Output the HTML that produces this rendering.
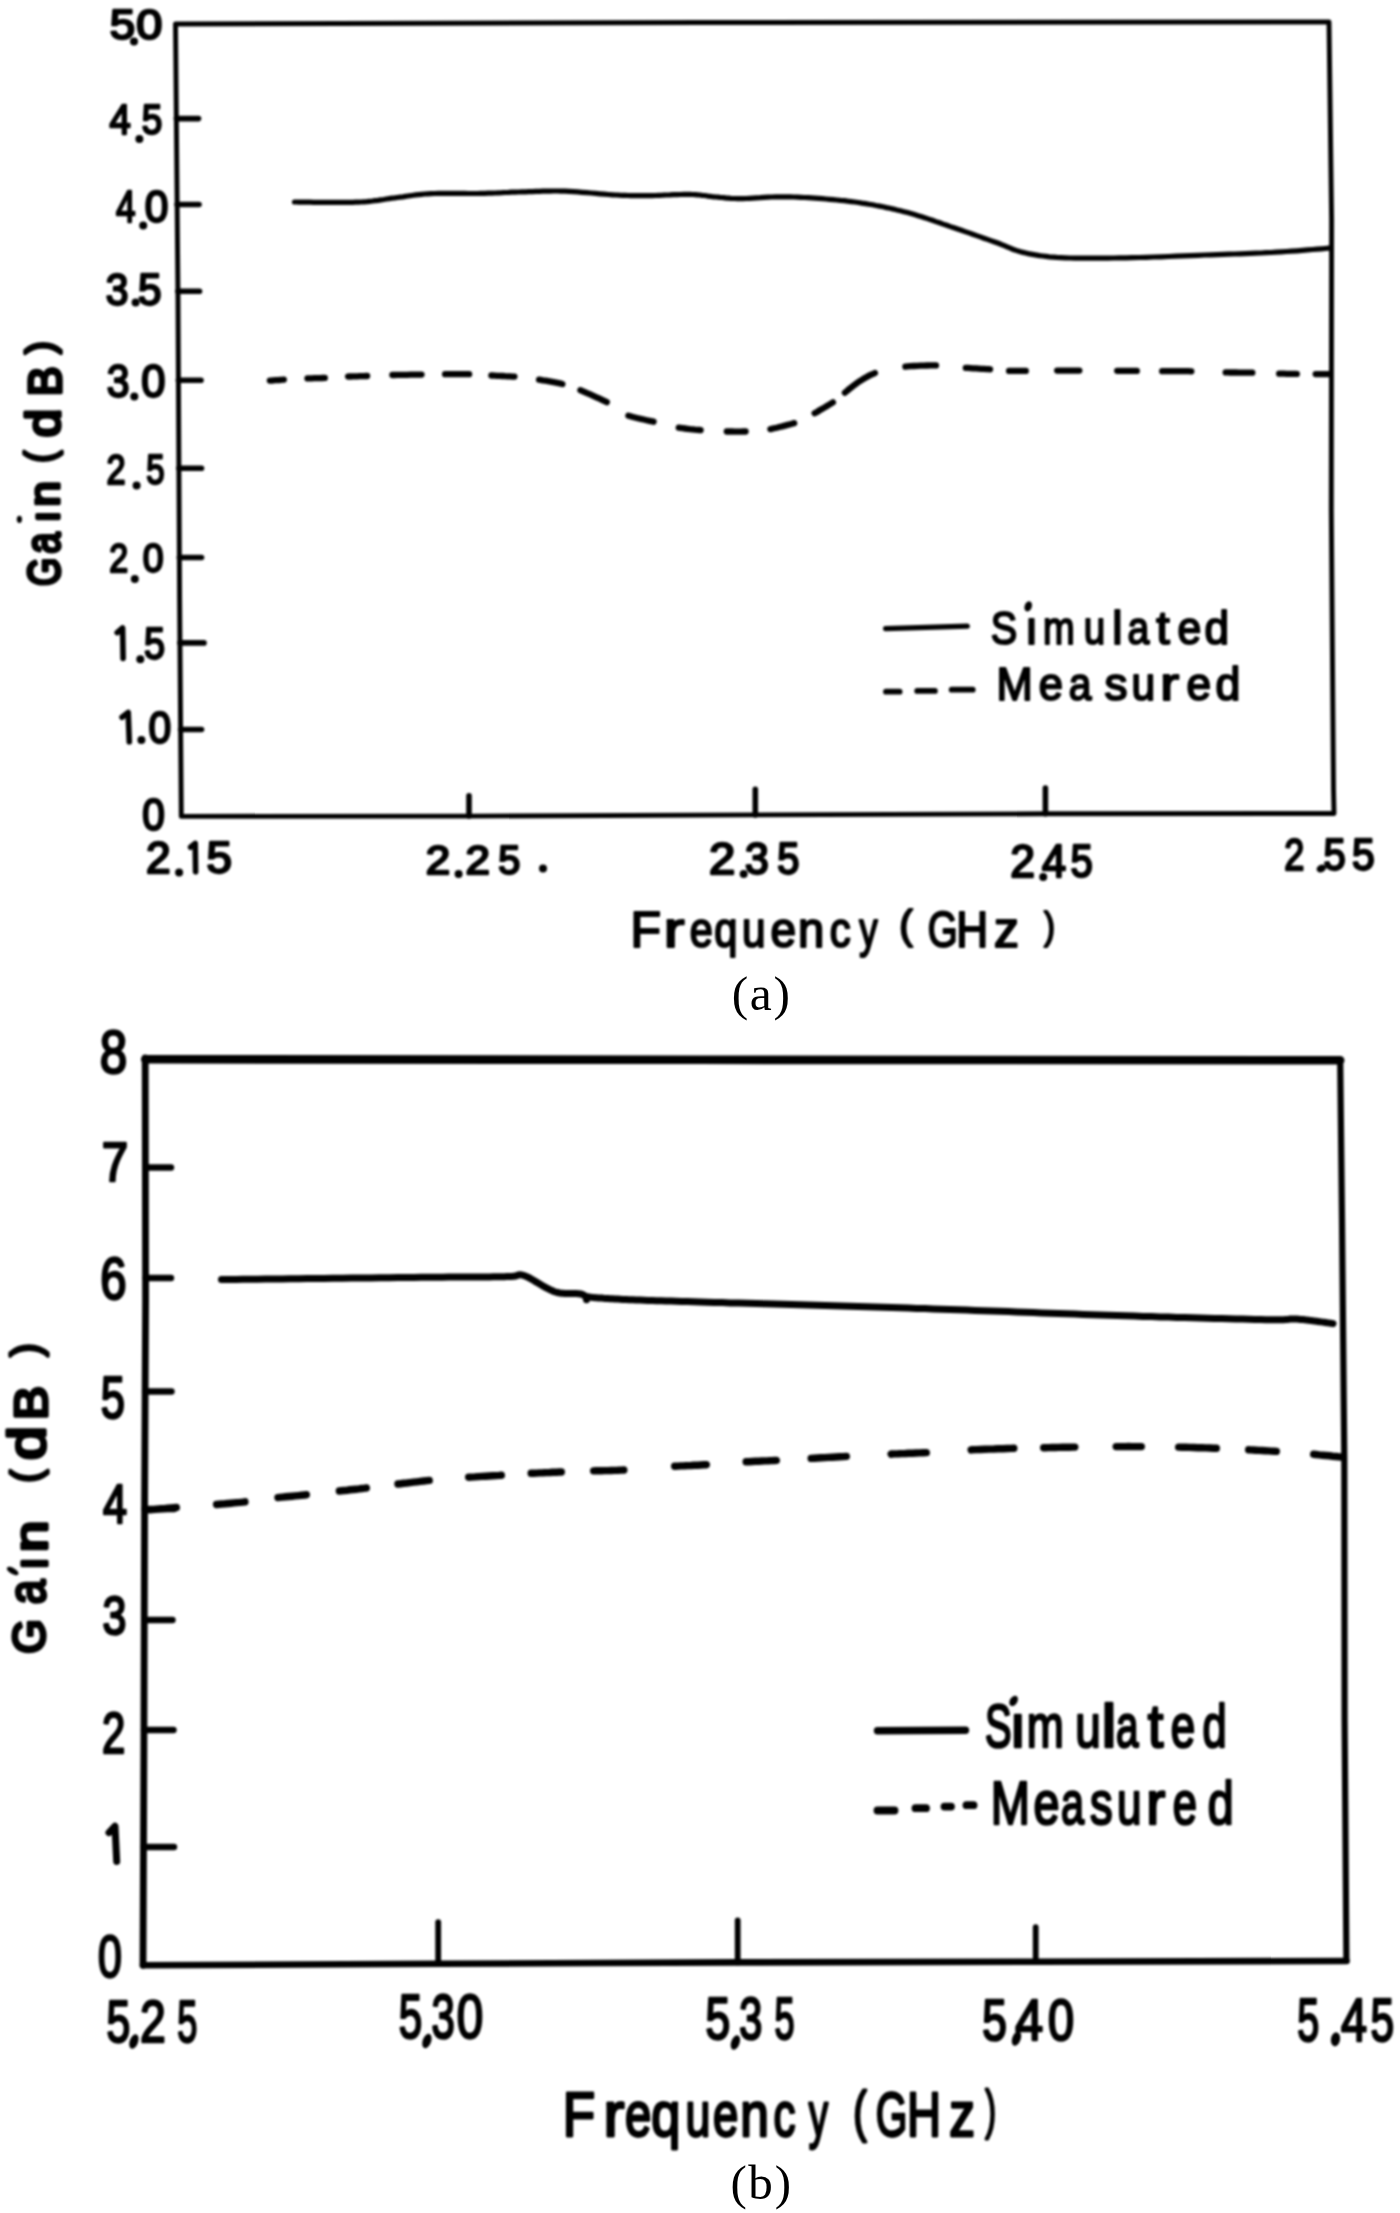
<!DOCTYPE html>
<html><head><meta charset="utf-8"><title>Gain vs Frequency</title>
<style>html,body{margin:0;padding:0;background:#fff;}#scan{display:block;filter:blur(1.2px);}#cap{position:absolute;left:0;top:0;}</style></head>
<body><svg id="scan" width="1400" height="2213" viewBox="0 0 1400 2213">
<rect width="1400" height="2213" fill="#fff"/>
<g fill="none" stroke="#000" stroke-linecap="round">
<path d="M175.5,24.0 L700.0,22.5 L1329.0,22.0 L1331.6,220.0 L1331.3,510.0 L1333.5,790.0 L1334.0,813.5 L1045.0,813.8 L755.0,814.9 L469.0,816.1 L181.3,816.4 L179.6,600.0 L178.0,300.0 Z" stroke-width="4.9" stroke-linejoin="round"/>
<path d="M176.4,118.6 L198.5,118.6" stroke-width="5.6" />
<path d="M177.1,204.5 L199.0,204.5" stroke-width="5.6" />
<path d="M177.9,291.2 L199.5,291.2" stroke-width="5.6" />
<path d="M178.4,380.2 L201.0,380.2" stroke-width="5.6" />
<path d="M178.9,468.2 L201.5,468.2" stroke-width="5.6" />
<path d="M179.4,557.5 L201.5,557.5" stroke-width="5.6" />
<path d="M179.9,642.9 L204.0,642.9" stroke-width="5.6" />
<path d="M180.6,729.5 L201.5,729.5" stroke-width="5.6" />
<path d="M469.0,795.9 L469.0,816.1" stroke-width="5.6" />
<path d="M755.3,789.4 L755.3,814.9" stroke-width="5.6" />
<path d="M1045.4,788.1 L1045.4,813.8" stroke-width="5.6" />
<path d="M294.5,202.0 L296.2,202.0 L298.4,202.1 L300.9,202.1 L303.8,202.1 L306.9,202.2 L310.1,202.2 L313.5,202.3 L317.0,202.3 L320.4,202.4 L323.8,202.4 L327.0,202.4 L330.0,202.4 L332.9,202.4 L335.8,202.4 L338.6,202.4 L341.5,202.4 L344.3,202.4 L347.1,202.4 L349.9,202.4 L352.8,202.3 L355.6,202.2 L358.4,202.1 L361.2,202.0 L364.0,201.8 L366.8,201.6 L369.6,201.3 L372.4,201.0 L375.2,200.6 L378.0,200.3 L380.8,199.9 L383.6,199.5 L386.4,199.0 L389.1,198.6 L391.9,198.2 L394.7,197.9 L397.5,197.5 L400.2,197.1 L402.9,196.8 L405.5,196.4 L408.1,196.0 L410.6,195.7 L413.2,195.3 L415.9,194.9 L418.6,194.6 L421.5,194.3 L424.5,194.0 L427.6,193.8 L431.0,193.6 L434.6,193.5 L438.5,193.4 L442.6,193.3 L446.8,193.3 L451.1,193.3 L455.5,193.3 L460.0,193.4 L464.4,193.4 L468.7,193.5 L473.0,193.5 L477.1,193.5 L481.0,193.4 L484.7,193.3 L488.3,193.2 L491.8,193.1 L495.3,193.0 L498.6,192.8 L501.9,192.7 L505.2,192.5 L508.5,192.4 L511.8,192.2 L515.2,192.1 L518.5,192.0 L522.0,191.9 L525.5,191.8 L529.0,191.7 L532.4,191.6 L535.9,191.4 L539.4,191.3 L542.9,191.2 L546.4,191.1 L550.0,191.1 L553.6,191.0 L557.3,191.0 L561.1,191.1 L565.0,191.2 L569.0,191.4 L573.2,191.6 L577.6,191.9 L582.1,192.3 L586.6,192.6 L591.1,193.0 L595.6,193.4 L600.0,193.8 L604.3,194.2 L608.4,194.5 L612.4,194.8 L616.0,195.0 L619.4,195.2 L622.4,195.3 L625.3,195.4 L628.0,195.5 L630.6,195.6 L633.1,195.6 L635.6,195.6 L638.1,195.7 L640.6,195.7 L643.2,195.6 L646.0,195.6 L649.0,195.6 L652.2,195.6 L655.5,195.5 L659.0,195.3 L662.6,195.2 L666.3,195.0 L669.9,194.9 L673.6,194.7 L677.1,194.6 L680.6,194.5 L683.9,194.4 L687.1,194.4 L690.0,194.4 L692.7,194.5 L695.2,194.6 L697.6,194.8 L699.9,195.0 L702.0,195.3 L704.1,195.5 L706.1,195.8 L708.0,196.1 L710.0,196.3 L712.0,196.6 L714.0,196.8 L716.0,197.0 L718.0,197.2 L719.9,197.4 L721.7,197.5 L723.4,197.7 L725.2,197.9 L726.9,198.1 L728.8,198.2 L730.7,198.4 L732.7,198.5 L734.9,198.5 L737.3,198.6 L740.0,198.6 L742.9,198.6 L746.1,198.5 L749.4,198.3 L752.9,198.1 L756.6,197.9 L760.3,197.7 L764.1,197.4 L768.0,197.2 L771.8,197.0 L775.6,196.9 L779.4,196.8 L783.0,196.8 L786.6,196.8 L790.2,196.9 L793.8,197.0 L797.3,197.1 L800.9,197.3 L804.5,197.5 L808.1,197.7 L811.7,197.9 L815.2,198.1 L818.8,198.4 L822.4,198.7 L826.0,199.0 L829.6,199.3 L833.2,199.6 L836.8,200.0 L840.4,200.4 L844.0,200.7 L847.6,201.2 L851.2,201.6 L854.7,202.0 L858.3,202.5 L861.9,203.1 L865.5,203.6 L869.0,204.2 L872.5,204.8 L876.0,205.5 L879.5,206.1 L883.0,206.8 L886.5,207.6 L890.0,208.3 L893.5,209.1 L897.0,210.0 L900.5,210.8 L904.0,211.7 L907.5,212.6 L911.0,213.6 L914.5,214.6 L918.1,215.7 L921.7,216.8 L925.3,217.9 L928.8,219.1 L932.4,220.3 L936.0,221.6 L939.6,222.8 L943.2,224.1 L946.8,225.3 L950.4,226.6 L954.0,227.8 L957.6,229.0 L961.4,230.3 L965.1,231.6 L969.0,232.9 L972.8,234.3 L976.6,235.6 L980.3,236.9 L983.9,238.2 L987.4,239.4 L990.8,240.6 L994.0,241.7 L997.0,242.8 L999.7,243.8 L1002.2,244.8 L1004.4,245.7 L1006.5,246.6 L1008.4,247.4 L1010.3,248.2 L1012.2,249.0 L1014.1,249.7 L1016.1,250.4 L1018.2,251.1 L1020.5,251.8 L1023.0,252.4 L1025.7,253.0 L1028.3,253.6 L1031.0,254.1 L1033.8,254.6 L1036.6,255.1 L1039.6,255.6 L1042.6,256.0 L1045.9,256.4 L1049.3,256.8 L1053.0,257.1 L1056.8,257.4 L1061.0,257.6 L1065.4,257.8 L1070.0,258.0 L1074.9,258.1 L1079.9,258.2 L1085.2,258.2 L1090.6,258.2 L1096.1,258.2 L1101.9,258.2 L1107.7,258.1 L1113.7,258.0 L1119.8,257.9 L1126.0,257.8 L1132.4,257.7 L1139.2,257.5 L1146.3,257.3 L1153.6,257.0 L1161.0,256.8 L1168.5,256.5 L1176.0,256.2 L1183.4,255.9 L1190.7,255.6 L1197.8,255.3 L1204.6,255.0 L1211.0,254.8 L1217.1,254.6 L1223.1,254.4 L1228.9,254.2 L1234.5,254.0 L1240.0,253.8 L1245.4,253.6 L1250.6,253.4 L1255.8,253.2 L1260.9,253.0 L1266.0,252.7 L1271.0,252.5 L1276.0,252.2 L1281.1,251.9 L1286.4,251.5 L1291.7,251.2 L1297.1,250.8 L1302.4,250.4 L1307.6,249.9 L1312.5,249.5 L1317.1,249.1 L1321.4,248.8 L1325.1,248.5 L1328.4,248.2 L1331.0,248.0" stroke-width="5.2" />
<path d="M269.9,380.6 L270.4,380.6 L272.0,380.5 L273.6,380.3 L275.4,380.2 L277.2,380.1 L279.0,380.0 L280.9,379.8 L282.7,379.7 L283.8,379.6 M307.5,378.4 L307.7,378.4 L309.7,378.3 L311.8,378.3 L313.9,378.2 L316.1,378.2 L318.2,378.1 L320.3,378.1 L322.4,378.0 L324.3,377.9 L324.8,377.9 M348.1,376.6 L348.8,376.5 L350.8,376.5 L353.0,376.4 L355.2,376.3 L357.4,376.3 L359.6,376.2 L361.8,376.2 L364.0,376.1 L366.1,376.0 L367.1,376.0 M392.4,375.0 L394.2,375.0 L397.2,374.9 L400.4,374.9 L403.8,374.8 L407.1,374.8 L410.5,374.7 L413.8,374.7 L416.9,374.6 L419.9,374.6 L421.5,374.6 M445.1,374.2 L446.4,374.2 L448.9,374.2 L451.6,374.2 L454.3,374.2 L457.1,374.2 L459.8,374.2 L462.6,374.2 L465.2,374.2 L467.7,374.2 L469.1,374.2 M491.4,375.5 L492.2,375.5 L494.6,375.6 L497.1,375.8 L499.7,375.9 L502.3,376.0 L505.0,376.2 L507.6,376.3 L510.1,376.4 L512.6,376.6 L514.4,376.7 M539.1,379.6 L540.5,379.8 L542.9,380.3 L545.6,380.7 L548.2,381.2 L550.9,381.7 L553.6,382.2 L556.2,382.7 L558.7,383.2 L561.0,383.7 L562.4,384.0 M580.4,390.2 L581.5,390.6 L584.2,391.8 L587.1,393.1 L590.2,394.4 L593.3,395.8 L596.5,397.3 L599.6,398.7 L602.5,400.1 L605.3,401.4 L606.8,402.1 M628.4,415.7 L629.5,416.0 L632.1,416.8 L634.9,417.5 L637.8,418.2 L640.8,418.9 L643.7,419.5 L646.7,420.2 L649.5,420.8 L652.2,421.4 L653.6,421.7 M678.8,427.7 L680.2,427.9 L682.6,428.2 L685.0,428.5 L687.4,428.8 L689.9,429.1 L692.4,429.3 L694.9,429.6 L697.4,429.8 L699.7,430.0 L700.6,430.1 M726.8,431.5 L728.0,431.5 L730.1,431.5 L732.2,431.5 L734.4,431.6 L736.6,431.6 L738.8,431.6 L741.0,431.6 L743.1,431.5 L745.2,431.5 L745.6,431.5 M770.4,429.1 L771.5,428.9 L774.0,428.3 L776.7,427.7 L779.4,427.0 L782.2,426.4 L785.0,425.6 L787.7,424.9 L790.3,424.2 L792.8,423.5 L794.2,423.1 M814.6,413.2 L815.2,412.9 L817.4,411.7 L819.6,410.3 L821.9,409.0 L824.3,407.6 L826.6,406.2 L828.8,404.9 L830.9,403.6 L832.9,402.4 M844.9,392.7 L845.7,392.0 L847.1,390.8 L848.6,389.5 L850.2,388.2 L851.9,386.9 L853.6,385.6 L855.2,384.4 L856.9,383.1 L858.5,382.0 L860.0,381.0 L861.5,380.1 L862.9,379.2 L864.4,378.3 L865.8,377.5 L867.2,376.7 L868.6,375.9 L870.1,375.2 L871.6,374.4 L873.1,373.8 L874.7,373.1 L874.9,373.0 M905.4,366.6 L907.6,366.4 L910.6,366.2 L913.9,366.0 L917.2,365.8 L920.5,365.7 L923.8,365.6 L927.1,365.5 L930.4,365.4 L933.4,365.4 L936.0,365.4 M965.8,367.8 L967.8,367.9 L970.5,368.1 L973.2,368.3 L975.9,368.4 L978.7,368.6 L981.4,368.8 L984.0,368.9 L986.6,369.1 L988.9,369.2 L990.0,369.3 M1009.1,370.9 L1009.2,370.9 L1011.0,370.9 L1012.9,370.9 L1014.8,370.9 L1016.8,370.9 L1018.8,370.9 L1020.8,370.9 L1022.9,370.9 L1024.9,370.9 L1025.8,370.9 M1057.2,370.6 L1058.4,370.6 L1060.7,370.6 L1063.0,370.6 L1065.3,370.6 L1067.6,370.6 L1069.9,370.6 L1072.3,370.6 L1074.6,370.6 L1077.1,370.6 L1079.3,370.6 M1117.2,370.8 L1118.8,370.8 L1121.1,370.8 L1123.4,370.8 L1125.6,370.8 L1127.8,370.8 L1130.0,370.8 L1132.1,370.9 L1134.1,370.9 L1136.1,370.9 L1136.8,370.9 M1162.2,371.2 L1164.0,371.2 L1166.8,371.2 L1169.7,371.2 L1172.8,371.2 L1175.9,371.2 L1179.1,371.2 L1182.3,371.2 L1185.4,371.2 L1188.4,371.2 L1191.3,371.3 L1191.3,371.3 M1225.7,372.4 L1227.3,372.4 L1230.2,372.5 L1233.1,372.5 L1236.0,372.5 L1238.9,372.6 L1241.8,372.6 L1244.7,372.6 L1247.5,372.7 L1250.1,372.7 L1252.3,372.7 M1279.2,373.7 L1280.0,373.7 L1282.1,373.7 L1284.2,373.7 L1286.4,373.8 L1288.6,373.8 L1290.7,373.8 L1292.8,373.8 L1294.8,373.8 L1296.7,373.9 L1296.8,373.9 M1315.7,374.1 L1316.9,374.1 L1318.8,374.1 L1320.8,374.2 L1322.8,374.2 L1324.7,374.2 L1326.5,374.2 L1328.2,374.2 L1328.8,374.2" stroke-width="6.3" />
<path d="M885.6,628.6 L967.3,626.2" stroke-width="5.2" />
<path d="M886.0,691.7 L899.6,691.7" stroke-width="5.8" />
<path d="M917.2,690.9 L934.9,690.9" stroke-width="5.8" />
<path d="M951.7,689.7 L972.7,689.7" stroke-width="5.8" />
<path d="M145.2,1058.0 L145.6,1300.0 L144.6,1500.0 L143.9,1750.0 L143.0,1965.3" stroke-width="6.8" />
<path d="M145.2,1059.3 L700.0,1059.8 L1340.2,1060.3" stroke-width="8.6" />
<path d="M1340.2,1060.3 L1342.0,1220.0 L1344.3,1460.0 L1344.6,1720.0 L1346.4,1961.0" stroke-width="6.2" />
<path d="M143.0,1965.3 L440.0,1963.8 L600.0,1963.0 L737.5,1962.4 L1036.0,1961.7 L1346.5,1961.0" stroke-width="6.6" />
<path d="M145.4,1167.5 L171.0,1167.5" stroke-width="6.4" />
<path d="M145.6,1278.0 L171.0,1278.0" stroke-width="6.4" />
<path d="M145.1,1391.5 L171.5,1391.5" stroke-width="6.4" />
<path d="M144.6,1509.0 L174.0,1509.0" stroke-width="6.4" />
<path d="M144.3,1620.0 L172.5,1620.0" stroke-width="6.4" />
<path d="M144.0,1730.0 L173.5,1730.0" stroke-width="6.4" />
<path d="M143.5,1847.0 L174.0,1847.0" stroke-width="6.4" />
<path d="M438.2,1922.2 L438.2,1963.8" stroke-width="5.8" />
<path d="M737.7,1920.4 L737.7,1962.4" stroke-width="5.8" />
<path d="M1035.7,1927.2 L1035.7,1961.7" stroke-width="5.8" />
<path d="M221.5,1279.6 L225.6,1279.6 L230.6,1279.5 L236.4,1279.4 L242.9,1279.3 L250.0,1279.3 L257.6,1279.2 L265.5,1279.1 L273.7,1279.0 L282.1,1278.9 L290.5,1278.8 L298.9,1278.7 L307.0,1278.6 L315.3,1278.5 L324.0,1278.4 L333.1,1278.3 L342.4,1278.2 L351.8,1278.1 L361.3,1278.0 L370.8,1277.9 L380.1,1277.8 L389.2,1277.7 L397.9,1277.6 L406.2,1277.5 L414.0,1277.4 L421.4,1277.3 L428.6,1277.3 L435.5,1277.2 L442.3,1277.2 L448.8,1277.1 L455.1,1277.1 L461.0,1277.1 L466.7,1277.0 L472.1,1277.0 L477.1,1277.0 L481.7,1276.9 L486.0,1276.9 L489.8,1276.9 L493.2,1276.8 L496.2,1276.8 L498.7,1276.8 L501.0,1276.7 L503.0,1276.7 L504.8,1276.7 L506.4,1276.6 L507.8,1276.6 L509.2,1276.5 L510.6,1276.5 L512.0,1276.4 L513.3,1276.3 L514.4,1276.2 L515.3,1276.0 L516.0,1275.8 L516.7,1275.6 L517.2,1275.4 L517.6,1275.3 L518.1,1275.1 L518.5,1275.0 L518.9,1274.9 L519.4,1274.8 L520.0,1274.8 L520.6,1274.8 L521.2,1274.9 L521.8,1275.0 L522.3,1275.1 L522.8,1275.2 L523.4,1275.3 L523.9,1275.5 L524.5,1275.7 L525.1,1276.0 L525.7,1276.2 L526.3,1276.5 L527.0,1276.8 L527.7,1277.1 L528.5,1277.5 L529.3,1277.9 L530.1,1278.4 L530.9,1278.8 L531.7,1279.3 L532.6,1279.8 L533.4,1280.3 L534.3,1280.8 L535.2,1281.4 L536.1,1281.9 L537.0,1282.4 L537.9,1282.9 L538.8,1283.5 L539.8,1284.0 L540.8,1284.6 L541.7,1285.2 L542.7,1285.8 L543.7,1286.4 L544.7,1287.0 L545.7,1287.5 L546.7,1288.0 L547.6,1288.5 L548.6,1289.0 L549.5,1289.4 L550.4,1289.9 L551.3,1290.3 L552.1,1290.6 L553.0,1291.0 L553.8,1291.4 L554.7,1291.7 L555.6,1292.0 L556.6,1292.3 L557.6,1292.5 L558.8,1292.8 L560.0,1293.0 L561.4,1293.2 L562.9,1293.3 L564.5,1293.4 L566.3,1293.4 L568.1,1293.4 L569.9,1293.5 L571.7,1293.5 L573.4,1293.5 L575.1,1293.5 L576.7,1293.6 L578.1,1293.7 L579.4,1293.8 L580.5,1294.0 L581.4,1294.2 L582.1,1294.4 L582.7,1294.7 L583.3,1295.0 L583.8,1295.2 L584.3,1295.5 L584.9,1295.8 L585.5,1296.1 L586.2,1296.4 L587.0,1296.6 L588.0,1296.8 L589.1,1297.0 L590.2,1297.1 L591.4,1297.3 L592.6,1297.4 L593.9,1297.6 L595.2,1297.7 L596.7,1297.8 L598.2,1297.9 L599.9,1298.0 L601.7,1298.1 L603.6,1298.3 L605.7,1298.4 L607.9,1298.5 L610.2,1298.7 L612.5,1298.8 L615.0,1299.0 L617.5,1299.1 L620.2,1299.2 L623.0,1299.4 L626.0,1299.5 L629.2,1299.7 L632.6,1299.8 L636.2,1300.0 L640.0,1300.1 L644.0,1300.2 L648.0,1300.4 L652.3,1300.5 L656.6,1300.7 L661.2,1300.8 L665.9,1301.0 L670.9,1301.1 L676.1,1301.3 L681.6,1301.5 L687.4,1301.6 L693.5,1301.8 L700.0,1302.0 L706.9,1302.2 L714.4,1302.4 L722.2,1302.6 L730.4,1302.9 L738.8,1303.1 L747.5,1303.3 L756.3,1303.6 L765.2,1303.8 L774.1,1304.1 L782.9,1304.3 L791.5,1304.6 L800.0,1304.8 L808.3,1305.0 L816.7,1305.3 L825.0,1305.5 L833.3,1305.8 L841.7,1306.0 L850.0,1306.3 L858.3,1306.5 L866.7,1306.8 L875.0,1307.0 L883.3,1307.3 L891.7,1307.5 L900.0,1307.8 L908.3,1308.1 L916.7,1308.4 L925.0,1308.6 L933.3,1308.9 L941.7,1309.2 L950.0,1309.5 L958.3,1309.8 L966.7,1310.1 L975.0,1310.4 L983.3,1310.7 L991.7,1311.0 L1000.0,1311.3 L1008.3,1311.6 L1016.7,1311.9 L1025.0,1312.2 L1033.3,1312.5 L1041.7,1312.9 L1050.0,1313.2 L1058.3,1313.5 L1066.7,1313.8 L1075.0,1314.1 L1083.3,1314.4 L1091.7,1314.7 L1100.0,1315.0 L1108.4,1315.3 L1117.0,1315.6 L1125.6,1315.8 L1134.3,1316.1 L1142.9,1316.4 L1151.6,1316.6 L1160.1,1316.9 L1168.5,1317.1 L1176.8,1317.4 L1184.8,1317.6 L1192.5,1317.8 L1200.0,1318.0 L1207.3,1318.2 L1214.6,1318.4 L1221.8,1318.6 L1228.9,1318.8 L1235.8,1319.0 L1242.5,1319.1 L1248.9,1319.3 L1255.0,1319.4 L1260.7,1319.6 L1266.0,1319.7 L1270.8,1319.7 L1275.0,1319.8 L1278.6,1319.8 L1281.5,1319.8 L1283.8,1319.7 L1285.6,1319.6 L1287.1,1319.5 L1288.2,1319.4 L1289.2,1319.2 L1290.1,1319.1 L1291.1,1319.0 L1292.1,1319.0 L1293.4,1319.0 L1295.0,1319.0 L1296.8,1319.1 L1298.8,1319.2 L1300.7,1319.4 L1302.7,1319.6 L1304.8,1319.8 L1306.8,1320.1 L1308.8,1320.3 L1310.8,1320.6 L1312.7,1320.8 L1314.6,1321.1 L1316.4,1321.3 L1318.0,1321.5 L1319.6,1321.7 L1321.1,1321.9 L1322.7,1322.1 L1324.1,1322.3 L1325.6,1322.5 L1326.9,1322.7 L1328.2,1322.9 L1329.4,1323.1 L1330.5,1323.2 L1331.5,1323.4 L1332.3,1323.5 L1333.0,1323.6" stroke-width="7.0" />
<ellipse cx="586.5" cy="1299.0" rx="3.6" ry="4.2" fill="#000" stroke="none"/>
<path d="M149.7,1509.9 L149.7,1509.9 L152.1,1509.6 L154.9,1509.4 L157.8,1509.1 L160.9,1508.8 L164.2,1508.6 L167.5,1508.3 L170.8,1508.0 L174.0,1507.7 L176.3,1507.5 M216.6,1504.5 L218.8,1504.3 L221.8,1504.0 L224.9,1503.8 L227.9,1503.5 L230.9,1503.2 L234.0,1502.9 L236.9,1502.6 L239.8,1502.4 L242.7,1502.1 L244.9,1501.8 M278.0,1497.6 L279.5,1497.4 L282.5,1497.1 L285.6,1496.8 L288.8,1496.5 L292.0,1496.2 L295.2,1495.9 L298.4,1495.6 L301.5,1495.3 L304.5,1495.0 L306.3,1494.8 M339.4,1491.0 L341.3,1490.8 L344.1,1490.5 L347.1,1490.2 L350.1,1489.8 L353.1,1489.5 L356.1,1489.2 L359.0,1488.9 L361.9,1488.5 L364.8,1488.2 L366.3,1488.0 M398.0,1484.0 L400.7,1483.7 L403.7,1483.3 L406.9,1483.0 L410.2,1482.6 L413.6,1482.2 L416.9,1481.8 L420.3,1481.4 L423.6,1481.0 L426.9,1480.6 L429.2,1480.4 M468.7,1477.2 L471.4,1477.1 L474.8,1476.9 L478.4,1476.6 L482.0,1476.4 L485.6,1476.2 L489.1,1476.0 L492.6,1475.8 L496.0,1475.6 L499.2,1475.4 L501.3,1475.2 M531.2,1473.3 L533.5,1473.2 L536.5,1473.1 L539.7,1472.9 L543.0,1472.8 L546.4,1472.6 L549.7,1472.5 L553.0,1472.3 L556.3,1472.2 L559.4,1472.0 L561.3,1472.0 M593.7,1470.9 L595.5,1470.8 L598.5,1470.8 L601.5,1470.7 L604.7,1470.6 L607.9,1470.6 L611.2,1470.5 L614.5,1470.4 L617.8,1470.3 L621.2,1470.1 L623.8,1470.0 M674.7,1466.3 L677.8,1466.1 L681.2,1465.9 L684.5,1465.8 L687.8,1465.6 L691.1,1465.5 L694.4,1465.3 L697.6,1465.2 L700.8,1465.0 L703.9,1464.8 L706.3,1464.7 M746.2,1461.8 L749.0,1461.7 L752.2,1461.5 L755.4,1461.3 L758.6,1461.2 L761.8,1461.0 L765.0,1460.9 L768.2,1460.8 L771.3,1460.6 L774.3,1460.5 L776.3,1460.4 M811.2,1458.4 L814.2,1458.2 L817.6,1458.0 L821.1,1457.8 L824.7,1457.6 L828.4,1457.4 L832.1,1457.2 L835.8,1457.0 L839.5,1456.8 L843.1,1456.6 L846.3,1456.4 M891.2,1454.1 L891.4,1454.0 L894.8,1453.9 L898.3,1453.8 L901.9,1453.6 L905.4,1453.5 L909.0,1453.3 L912.6,1453.2 L916.1,1453.0 L919.7,1452.9 L923.2,1452.7 L926.3,1452.6 M971.2,1449.9 L971.8,1449.8 L976.0,1449.6 L980.3,1449.5 L984.8,1449.3 L989.4,1449.1 L994.0,1449.0 L998.5,1448.8 L1003.0,1448.7 L1007.2,1448.5 L1011.1,1448.4 L1013.8,1448.3 M1043.7,1447.7 L1045.6,1447.7 L1048.7,1447.6 L1052.0,1447.5 L1055.3,1447.5 L1058.8,1447.4 L1062.3,1447.3 L1065.8,1447.3 L1069.3,1447.2 L1072.7,1447.1 L1074.8,1447.1 M1116.2,1446.6 L1117.5,1446.6 L1120.3,1446.6 L1123.1,1446.6 L1125.9,1446.6 L1128.7,1446.5 L1131.5,1446.6 L1134.2,1446.6 L1137.0,1446.6 L1139.7,1446.6 L1141.3,1446.6 M1178.7,1447.1 L1181.9,1447.2 L1185.7,1447.3 L1189.6,1447.4 L1193.7,1447.5 L1197.8,1447.7 L1201.9,1447.8 L1205.9,1447.9 L1209.8,1448.0 L1213.5,1448.2 L1216.3,1448.3 M1248.7,1449.8 L1250.3,1449.9 L1253.2,1450.0 L1256.1,1450.2 L1259.1,1450.4 L1262.2,1450.5 L1265.3,1450.7 L1268.3,1450.9 L1271.4,1451.1 L1274.3,1451.2 L1276.3,1451.4 M1313.7,1454.3 L1315.9,1454.5 L1319.2,1454.9 L1322.6,1455.2 L1326.0,1455.5 L1329.4,1455.8 L1332.6,1456.2 L1335.7,1456.5 L1338.6,1456.8 L1341.1,1457.0 L1341.3,1457.0" stroke-width="7.4" />
<path d="M877.5,1730.8 L965.5,1730.2" stroke-width="7.4" />
<path d="M877.5,1810.5 L894.5,1810.5" stroke-width="7.8" />
<path d="M915.5,1808.2 L926.0,1808.2" stroke-width="7.8" />
<path d="M944.5,1806.6 L951.0,1806.6" stroke-width="7.8" />
<path d="M966.5,1805.2 L973.5,1805.2" stroke-width="7.8" />
<text transform="translate(109.66,38.68) scale(1.073,1)" font-size="42.51" font-family='"Liberation Sans", sans-serif' fill="#000" stroke="#000" stroke-width="2.40" stroke-linejoin="round">5</text>
<text transform="translate(136.19,38.68) scale(1.105,1)" font-size="42.51" font-family='"Liberation Sans", sans-serif' fill="#000" stroke="#000" stroke-width="2.40" stroke-linejoin="round">0</text>
<ellipse cx="134.0" cy="41.5" rx="4.0" ry="4.0" fill="#000" stroke="none"/>
<text transform="translate(109.40,134.18) scale(0.896,1)" font-size="42.65" font-family='"Liberation Sans", sans-serif' fill="#000" stroke="#000" stroke-width="2.40" stroke-linejoin="round">4</text>
<text transform="translate(141.76,134.18) scale(0.866,1)" font-size="42.65" font-family='"Liberation Sans", sans-serif' fill="#000" stroke="#000" stroke-width="2.40" stroke-linejoin="round">5</text>
<ellipse cx="139.4" cy="139.0" rx="4.0" ry="4.0" fill="#000" stroke="none"/>
<text transform="translate(115.94,222.16) scale(0.785,1)" font-size="44.77" font-family='"Liberation Sans", sans-serif' fill="#000" stroke="#000" stroke-width="2.40" stroke-linejoin="round">4</text>
<text transform="translate(144.68,222.16) scale(0.949,1)" font-size="44.77" font-family='"Liberation Sans", sans-serif' fill="#000" stroke="#000" stroke-width="2.40" stroke-linejoin="round">0</text>
<ellipse cx="143.2" cy="225.5" rx="4.0" ry="4.0" fill="#000" stroke="none"/>
<text transform="translate(105.77,305.18) scale(0.938,1)" font-size="43.50" font-family='"Liberation Sans", sans-serif' fill="#000" stroke="#000" stroke-width="2.40" stroke-linejoin="round">3</text>
<text transform="translate(138.07,305.18) scale(0.973,1)" font-size="43.50" font-family='"Liberation Sans", sans-serif' fill="#000" stroke="#000" stroke-width="2.40" stroke-linejoin="round">5</text>
<ellipse cx="135.6" cy="302.5" rx="4.0" ry="4.0" fill="#000" stroke="none"/>
<text transform="translate(106.71,396.65) scale(0.891,1)" font-size="46.04" font-family='"Liberation Sans", sans-serif' fill="#000" stroke="#000" stroke-width="2.40" stroke-linejoin="round">3</text>
<text transform="translate(141.13,396.65) scale(0.946,1)" font-size="46.04" font-family='"Liberation Sans", sans-serif' fill="#000" stroke="#000" stroke-width="2.40" stroke-linejoin="round">0</text>
<ellipse cx="134.3" cy="396.6" rx="4.0" ry="4.0" fill="#000" stroke="none"/>
<text transform="translate(106.44,483.68) scale(0.806,1)" font-size="42.65" font-family='"Liberation Sans", sans-serif' fill="#000" stroke="#000" stroke-width="2.40" stroke-linejoin="round">2</text>
<text transform="translate(146.21,483.68) scale(0.774,1)" font-size="42.65" font-family='"Liberation Sans", sans-serif' fill="#000" stroke="#000" stroke-width="2.40" stroke-linejoin="round">5</text>
<ellipse cx="136.6" cy="485.5" rx="4.0" ry="4.0" fill="#000" stroke="none"/>
<text transform="translate(109.27,571.70) scale(0.823,1)" font-size="41.38" font-family='"Liberation Sans", sans-serif' fill="#000" stroke="#000" stroke-width="2.40" stroke-linejoin="round">2</text>
<text transform="translate(142.72,571.70) scale(0.906,1)" font-size="41.38" font-family='"Liberation Sans", sans-serif' fill="#000" stroke="#000" stroke-width="2.40" stroke-linejoin="round">0</text>
<ellipse cx="134.8" cy="579.0" rx="4.0" ry="4.0" fill="#000" stroke="none"/>
<text transform="translate(143.90,659.16) scale(0.846,1)" font-size="44.77" font-family='"Liberation Sans", sans-serif' fill="#000" stroke="#000" stroke-width="2.40" stroke-linejoin="round">5</text>
<ellipse cx="140.3" cy="659.3" rx="4.0" ry="4.0" fill="#000" stroke="none"/>
<path d="M117.2,632.6 L122.6,628.0 L123.1,658.4" stroke-width="5.6" stroke-linejoin="round"/>
<text transform="translate(148.40,742.76) scale(0.909,1)" font-size="44.91" font-family='"Liberation Sans", sans-serif' fill="#000" stroke="#000" stroke-width="2.40" stroke-linejoin="round">0</text>
<ellipse cx="141.4" cy="740.0" rx="4.0" ry="4.0" fill="#000" stroke="none"/>
<path d="M122.0,717.2 L128.2,712.4 L129.3,741.8" stroke-width="5.6" stroke-linejoin="round"/>
<text transform="translate(142.22,829.77) scale(0.923,1)" font-size="43.93" font-family='"Liberation Sans", sans-serif' fill="#000" stroke="#000" stroke-width="2.40" stroke-linejoin="round">0</text>
<text transform="translate(146.09,872.67) scale(1.011,1)" font-size="43.78" font-family='"Liberation Sans", sans-serif' fill="#000" stroke="#000" stroke-width="2.40" stroke-linejoin="round">2</text>
<text transform="translate(206.42,872.67) scale(1.045,1)" font-size="43.78" font-family='"Liberation Sans", sans-serif' fill="#000" stroke="#000" stroke-width="2.40" stroke-linejoin="round">5</text>
<ellipse cx="179.1" cy="872.5" rx="4.0" ry="4.0" fill="#000" stroke="none"/>
<path d="M190.6,847.2 L195.2,843.4 L195.6,871.8" stroke-width="5.6" stroke-linejoin="round"/>
<text transform="translate(425.66,874.19) scale(1.060,1)" font-size="41.52" font-family='"Liberation Sans", sans-serif' fill="#000" stroke="#000" stroke-width="2.40" stroke-linejoin="round">2</text>
<text transform="translate(465.56,874.19) scale(1.060,1)" font-size="41.52" font-family='"Liberation Sans", sans-serif' fill="#000" stroke="#000" stroke-width="2.40" stroke-linejoin="round">2</text>
<text transform="translate(498.26,874.19) scale(0.955,1)" font-size="41.52" font-family='"Liberation Sans", sans-serif' fill="#000" stroke="#000" stroke-width="2.40" stroke-linejoin="round">5</text>
<ellipse cx="458.6" cy="874.0" rx="4.0" ry="4.0" fill="#000" stroke="none"/>
<ellipse cx="543.0" cy="868.5" rx="4.0" ry="4.0" fill="#000" stroke="none"/>
<text transform="translate(709.12,874.17) scale(1.082,1)" font-size="43.64" font-family='"Liberation Sans", sans-serif' fill="#000" stroke="#000" stroke-width="2.40" stroke-linejoin="round">2</text>
<text transform="translate(745.05,874.17) scale(0.979,1)" font-size="43.64" font-family='"Liberation Sans", sans-serif' fill="#000" stroke="#000" stroke-width="2.40" stroke-linejoin="round">3</text>
<text transform="translate(777.20,874.17) scale(0.914,1)" font-size="43.64" font-family='"Liberation Sans", sans-serif' fill="#000" stroke="#000" stroke-width="2.40" stroke-linejoin="round">5</text>
<ellipse cx="743.7" cy="874.0" rx="4.0" ry="4.0" fill="#000" stroke="none"/>
<text transform="translate(1010.13,877.15) scale(0.972,1)" font-size="45.76" font-family='"Liberation Sans", sans-serif' fill="#000" stroke="#000" stroke-width="2.40" stroke-linejoin="round">2</text>
<text transform="translate(1042.04,877.15) scale(0.947,1)" font-size="45.76" font-family='"Liberation Sans", sans-serif' fill="#000" stroke="#000" stroke-width="2.40" stroke-linejoin="round">4</text>
<text transform="translate(1070.45,877.15) scale(0.876,1)" font-size="45.76" font-family='"Liberation Sans", sans-serif' fill="#000" stroke="#000" stroke-width="2.40" stroke-linejoin="round">5</text>
<ellipse cx="1043.2" cy="877.0" rx="4.0" ry="4.0" fill="#000" stroke="none"/>
<text transform="translate(1284.16,869.57) scale(0.812,1)" font-size="44.49" font-family='"Liberation Sans", sans-serif' fill="#000" stroke="#000" stroke-width="2.40" stroke-linejoin="round">2</text>
<text transform="translate(1323.58,869.57) scale(0.898,1)" font-size="44.49" font-family='"Liberation Sans", sans-serif' fill="#000" stroke="#000" stroke-width="2.40" stroke-linejoin="round">5</text>
<text transform="translate(1351.97,869.57) scale(0.919,1)" font-size="44.49" font-family='"Liberation Sans", sans-serif' fill="#000" stroke="#000" stroke-width="2.40" stroke-linejoin="round">5</text>
<ellipse cx="1321.3" cy="868.5" rx="4.8" ry="3.8" transform="rotate(-20.0 1321.3 868.5)" fill="#000" stroke="none"/>
<text transform="translate(990.69,643.59) scale(0.846,1)" font-size="46.89" font-family='"Liberation Sans", sans-serif' fill="#000" stroke="#000" stroke-width="2.10" stroke-linejoin="round">S</text>
<ellipse cx="1028.2" cy="606.4" rx="3.6" ry="5.2" transform="rotate(20.0 1028.2 606.4)" fill="#000" stroke="none"/>
<text transform="translate(1025.10,643.59) scale(1.000,1)" font-size="46.89" font-family='"Liberation Sans", sans-serif' fill="#000" stroke="#000" stroke-width="2.10" stroke-linejoin="round">ı</text>
<text transform="translate(1042.92,643.59) scale(0.812,1)" font-size="46.89" font-family='"Liberation Sans", sans-serif' fill="#000" stroke="#000" stroke-width="2.10" stroke-linejoin="round">m</text>
<text transform="translate(1083.86,643.59) scale(0.822,1)" font-size="46.89" font-family='"Liberation Sans", sans-serif' fill="#000" stroke="#000" stroke-width="2.10" stroke-linejoin="round">u</text>
<text transform="translate(1112.23,643.59) scale(0.980,1)" font-size="46.89" font-family='"Liberation Sans", sans-serif' fill="#000" stroke="#000" stroke-width="2.10" stroke-linejoin="round">l</text>
<text transform="translate(1127.41,643.59) scale(0.836,1)" font-size="46.89" font-family='"Liberation Sans", sans-serif' fill="#000" stroke="#000" stroke-width="2.10" stroke-linejoin="round">a</text>
<text transform="translate(1156.35,643.59) scale(1.030,1)" font-size="46.89" font-family='"Liberation Sans", sans-serif' fill="#000" stroke="#000" stroke-width="2.10" stroke-linejoin="round">t</text>
<text transform="translate(1177.44,643.59) scale(0.909,1)" font-size="46.89" font-family='"Liberation Sans", sans-serif' fill="#000" stroke="#000" stroke-width="2.10" stroke-linejoin="round">e</text>
<text transform="translate(1204.44,643.59) scale(0.940,1)" font-size="46.89" font-family='"Liberation Sans", sans-serif' fill="#000" stroke="#000" stroke-width="2.10" stroke-linejoin="round">d</text>
<text transform="translate(996.53,699.65) scale(0.950,1)" font-size="45.79" font-family='"Liberation Sans", sans-serif' fill="#000" stroke="#000" stroke-width="2.10" stroke-linejoin="round">M</text>
<text transform="translate(1038.65,699.65) scale(0.950,1)" font-size="45.79" font-family='"Liberation Sans", sans-serif' fill="#000" stroke="#000" stroke-width="2.10" stroke-linejoin="round">e</text>
<text transform="translate(1068.70,699.65) scale(0.890,1)" font-size="45.79" font-family='"Liberation Sans", sans-serif' fill="#000" stroke="#000" stroke-width="2.10" stroke-linejoin="round">a</text>
<text transform="translate(1104.58,699.65) scale(1.002,1)" font-size="45.79" font-family='"Liberation Sans", sans-serif' fill="#000" stroke="#000" stroke-width="2.10" stroke-linejoin="round">s</text>
<text transform="translate(1131.41,699.65) scale(0.928,1)" font-size="45.79" font-family='"Liberation Sans", sans-serif' fill="#000" stroke="#000" stroke-width="2.10" stroke-linejoin="round">u</text>
<text transform="translate(1160.25,699.65) scale(1.233,1)" font-size="45.79" font-family='"Liberation Sans", sans-serif' fill="#000" stroke="#000" stroke-width="2.10" stroke-linejoin="round">r</text>
<text transform="translate(1186.44,699.65) scale(0.963,1)" font-size="45.79" font-family='"Liberation Sans", sans-serif' fill="#000" stroke="#000" stroke-width="2.10" stroke-linejoin="round">e</text>
<text transform="translate(1215.45,699.65) scale(0.974,1)" font-size="45.79" font-family='"Liberation Sans", sans-serif' fill="#000" stroke="#000" stroke-width="2.10" stroke-linejoin="round">d</text>
<text transform="translate(630.51,947.00) scale(1.004,1)" font-size="49.71" font-family='"Liberation Sans", sans-serif' fill="#000" stroke="#000" stroke-width="2.20" stroke-linejoin="round">F</text>
<text transform="translate(663.75,947.00) scale(1.251,1)" font-size="49.71" font-family='"Liberation Sans", sans-serif' fill="#000" stroke="#000" stroke-width="2.20" stroke-linejoin="round">r</text>
<text transform="translate(689.66,947.00) scale(0.834,1)" font-size="49.71" font-family='"Liberation Sans", sans-serif' fill="#000" stroke="#000" stroke-width="2.20" stroke-linejoin="round">e</text>
<text transform="translate(714.37,947.00) scale(0.838,1)" font-size="49.71" font-family='"Liberation Sans", sans-serif' fill="#000" stroke="#000" stroke-width="2.20" stroke-linejoin="round">q</text>
<text transform="translate(741.88,947.00) scale(0.853,1)" font-size="49.71" font-family='"Liberation Sans", sans-serif' fill="#000" stroke="#000" stroke-width="2.20" stroke-linejoin="round">u</text>
<text transform="translate(770.56,947.00) scale(0.925,1)" font-size="49.71" font-family='"Liberation Sans", sans-serif' fill="#000" stroke="#000" stroke-width="2.20" stroke-linejoin="round">e</text>
<text transform="translate(797.91,947.00) scale(0.948,1)" font-size="49.71" font-family='"Liberation Sans", sans-serif' fill="#000" stroke="#000" stroke-width="2.20" stroke-linejoin="round">n</text>
<text transform="translate(829.85,947.00) scale(0.842,1)" font-size="49.71" font-family='"Liberation Sans", sans-serif' fill="#000" stroke="#000" stroke-width="2.20" stroke-linejoin="round">c</text>
<text transform="translate(859.22,947.00) scale(0.738,1)" font-size="49.71" font-family='"Liberation Sans", sans-serif' fill="#000" stroke="#000" stroke-width="2.20" stroke-linejoin="round">y</text>
<text transform="translate(899.28,939.43) scale(0.989,1)" font-size="40.90" font-family='"Liberation Sans", sans-serif' fill="#000" stroke="#000" stroke-width="2.20" stroke-linejoin="round">(</text>
<text transform="translate(927.72,947.00) scale(0.773,1)" font-size="49.71" font-family='"Liberation Sans", sans-serif' fill="#000" stroke="#000" stroke-width="2.20" stroke-linejoin="round">G</text>
<text transform="translate(956.36,947.00) scale(0.888,1)" font-size="49.71" font-family='"Liberation Sans", sans-serif' fill="#000" stroke="#000" stroke-width="2.20" stroke-linejoin="round">H</text>
<text transform="translate(993.88,947.00) scale(1.002,1)" font-size="49.71" font-family='"Liberation Sans", sans-serif' fill="#000" stroke="#000" stroke-width="2.20" stroke-linejoin="round">z</text>
<text transform="translate(1044.02,939.10) scale(0.835,1)" font-size="39.61" font-family='"Liberation Sans", sans-serif' fill="#000" stroke="#000" stroke-width="2.20" stroke-linejoin="round">)</text>
<text transform="translate(60.46,585.89) rotate(-90) scale(0.804,1)" font-size="45.34" font-family='"Liberation Sans", sans-serif' fill="#000" stroke="#000" stroke-width="3.60" stroke-linejoin="round">G</text>
<text transform="translate(60.41,553.65) rotate(-90) scale(0.766,1)" font-size="50.20" font-family='"Liberation Sans", sans-serif' fill="#000" stroke="#000" stroke-width="3.60" stroke-linejoin="round">a</text>
<ellipse cx="19.4" cy="519.3" rx="2.6" ry="3.6" transform="rotate(0.0 19.4 519.3)" fill="#000" stroke="none"/>
<text transform="translate(59.40,522.15) rotate(-90) scale(1.000,1)" font-size="41.07" font-family='"Liberation Sans", sans-serif' fill="#000" stroke="#000" stroke-width="3.60" stroke-linejoin="round">ı</text>
<text transform="translate(59.40,506.62) rotate(-90) scale(1.062,1)" font-size="42.93" font-family='"Liberation Sans", sans-serif' fill="#000" stroke="#000" stroke-width="3.60" stroke-linejoin="round">n</text>
<text transform="translate(53.99,462.50) rotate(-90) scale(0.871,1)" font-size="40.14" font-family='"Liberation Sans", sans-serif' fill="#000" stroke="#000" stroke-width="3.60" stroke-linejoin="round">(</text>
<text transform="translate(60.43,437.13) rotate(-90) scale(1.059,1)" font-size="48.07" font-family='"Liberation Sans", sans-serif' fill="#000" stroke="#000" stroke-width="3.60" stroke-linejoin="round">d</text>
<text transform="translate(60.90,396.34) rotate(-90) scale(0.972,1)" font-size="46.22" font-family='"Liberation Sans", sans-serif' fill="#000" stroke="#000" stroke-width="3.60" stroke-linejoin="round">B</text>
<text transform="translate(53.44,353.73) rotate(-90) scale(0.940,1)" font-size="39.39" font-family='"Liberation Sans", sans-serif' fill="#000" stroke="#000" stroke-width="3.60" stroke-linejoin="round">)</text>
<text transform="translate(99.82,1072.91) scale(0.819,1)" font-size="60.31" font-family='"Liberation Sans", sans-serif' fill="#000" stroke="#000" stroke-width="2.60" stroke-linejoin="round">8</text>
<text transform="translate(101.77,1181.40) scale(0.849,1)" font-size="55.96" font-family='"Liberation Sans", sans-serif' fill="#000" stroke="#000" stroke-width="2.60" stroke-linejoin="round">7</text>
<text transform="translate(100.25,1299.33) scale(0.810,1)" font-size="58.33" font-family='"Liberation Sans", sans-serif' fill="#000" stroke="#000" stroke-width="2.60" stroke-linejoin="round">6</text>
<text transform="translate(100.81,1417.92) scale(0.734,1)" font-size="59.19" font-family='"Liberation Sans", sans-serif' fill="#000" stroke="#000" stroke-width="2.60" stroke-linejoin="round">5</text>
<text transform="translate(103.11,1522.80) scale(0.775,1)" font-size="55.81" font-family='"Liberation Sans", sans-serif' fill="#000" stroke="#000" stroke-width="2.60" stroke-linejoin="round">4</text>
<text transform="translate(102.49,1633.67) scale(0.791,1)" font-size="54.24" font-family='"Liberation Sans", sans-serif' fill="#000" stroke="#000" stroke-width="2.60" stroke-linejoin="round">3</text>
<text transform="translate(101.95,1752.80) scale(0.733,1)" font-size="57.14" font-family='"Liberation Sans", sans-serif' fill="#000" stroke="#000" stroke-width="2.60" stroke-linejoin="round">2</text>
<text transform="translate(98.08,1976.53) scale(0.735,1)" font-size="58.33" font-family='"Liberation Sans", sans-serif' fill="#000" stroke="#000" stroke-width="2.60" stroke-linejoin="round">0</text>
<path d="M109.0,1832.6 L115.0,1826.2 L116.7,1861.4" stroke-width="7.0" stroke-linejoin="round"/>
<text transform="translate(106.42,2041.52) scale(0.713,1)" font-size="59.89" font-family='"Liberation Sans", sans-serif' fill="#000" stroke="#000" stroke-width="2.60" stroke-linejoin="round">5</text>
<text transform="translate(140.08,2041.52) scale(0.773,1)" font-size="59.89" font-family='"Liberation Sans", sans-serif' fill="#000" stroke="#000" stroke-width="2.60" stroke-linejoin="round">2</text>
<text transform="translate(177.34,2041.52) scale(0.603,1)" font-size="59.89" font-family='"Liberation Sans", sans-serif' fill="#000" stroke="#000" stroke-width="2.60" stroke-linejoin="round">5</text>
<ellipse cx="133.9" cy="2041.5" rx="4.2" ry="7.5" transform="rotate(20.0 133.9 2041.5)" fill="#000" stroke="none"/>
<text transform="translate(398.80,2038.39) scale(0.677,1)" font-size="62.15" font-family='"Liberation Sans", sans-serif' fill="#000" stroke="#000" stroke-width="2.60" stroke-linejoin="round">5</text>
<text transform="translate(431.48,2038.39) scale(0.674,1)" font-size="62.15" font-family='"Liberation Sans", sans-serif' fill="#000" stroke="#000" stroke-width="2.60" stroke-linejoin="round">3</text>
<text transform="translate(456.74,2038.39) scale(0.765,1)" font-size="62.15" font-family='"Liberation Sans", sans-serif' fill="#000" stroke="#000" stroke-width="2.60" stroke-linejoin="round">0</text>
<ellipse cx="426.9" cy="2041.0" rx="4.2" ry="7.5" transform="rotate(20.0 426.9 2041.0)" fill="#000" stroke="none"/>
<text transform="translate(705.51,2038.53) scale(0.757,1)" font-size="58.62" font-family='"Liberation Sans", sans-serif' fill="#000" stroke="#000" stroke-width="2.60" stroke-linejoin="round">5</text>
<text transform="translate(739.34,2038.53) scale(0.707,1)" font-size="58.62" font-family='"Liberation Sans", sans-serif' fill="#000" stroke="#000" stroke-width="2.60" stroke-linejoin="round">3</text>
<text transform="translate(774.46,2038.53) scale(0.615,1)" font-size="58.62" font-family='"Liberation Sans", sans-serif' fill="#000" stroke="#000" stroke-width="2.60" stroke-linejoin="round">5</text>
<ellipse cx="735.4" cy="2042.5" rx="4.2" ry="7.5" transform="rotate(20.0 735.4 2042.5)" fill="#000" stroke="none"/>
<text transform="translate(982.22,2040.04) scale(0.767,1)" font-size="57.77" font-family='"Liberation Sans", sans-serif' fill="#000" stroke="#000" stroke-width="2.60" stroke-linejoin="round">5</text>
<text transform="translate(1015.18,2040.04) scale(0.867,1)" font-size="57.77" font-family='"Liberation Sans", sans-serif' fill="#000" stroke="#000" stroke-width="2.60" stroke-linejoin="round">4</text>
<text transform="translate(1048.12,2040.04) scale(0.811,1)" font-size="57.77" font-family='"Liberation Sans", sans-serif' fill="#000" stroke="#000" stroke-width="2.60" stroke-linejoin="round">0</text>
<ellipse cx="1016.5" cy="2038.5" rx="4.2" ry="7.5" transform="rotate(20.0 1016.5 2038.5)" fill="#000" stroke="none"/>
<text transform="translate(1297.36,2040.90) scale(0.644,1)" font-size="61.30" font-family='"Liberation Sans", sans-serif' fill="#000" stroke="#000" stroke-width="2.60" stroke-linejoin="round">5</text>
<text transform="translate(1341.12,2040.90) scale(0.764,1)" font-size="61.30" font-family='"Liberation Sans", sans-serif' fill="#000" stroke="#000" stroke-width="2.60" stroke-linejoin="round">4</text>
<text transform="translate(1370.60,2040.90) scale(0.692,1)" font-size="61.30" font-family='"Liberation Sans", sans-serif' fill="#000" stroke="#000" stroke-width="2.60" stroke-linejoin="round">5</text>
<ellipse cx="1335.5" cy="2039.3" rx="4.6" ry="7.0" transform="rotate(10.0 1335.5 2039.3)" fill="#000" stroke="none"/>
<text transform="translate(984.93,1746.80) scale(0.644,1)" font-size="61.86" font-family='"Liberation Sans", sans-serif' fill="#000" stroke="#000" stroke-width="2.60" stroke-linejoin="round">S</text>
<ellipse cx="1013.6" cy="1700.9" rx="3.8" ry="5.6" transform="rotate(30.0 1013.6 1700.9)" fill="#000" stroke="none"/>
<text transform="translate(1009.27,1746.80) scale(1.000,1)" font-size="61.86" font-family='"Liberation Sans", sans-serif' fill="#000" stroke="#000" stroke-width="2.60" stroke-linejoin="round">ı</text>
<text transform="translate(1026.78,1746.80) scale(0.720,1)" font-size="61.86" font-family='"Liberation Sans", sans-serif' fill="#000" stroke="#000" stroke-width="2.60" stroke-linejoin="round">m</text>
<text transform="translate(1075.29,1746.80) scale(0.741,1)" font-size="61.86" font-family='"Liberation Sans", sans-serif' fill="#000" stroke="#000" stroke-width="2.60" stroke-linejoin="round">u</text>
<text transform="translate(1101.19,1746.80) scale(1.120,1)" font-size="61.86" font-family='"Liberation Sans", sans-serif' fill="#000" stroke="#000" stroke-width="2.60" stroke-linejoin="round">l</text>
<text transform="translate(1115.93,1746.80) scale(0.654,1)" font-size="61.86" font-family='"Liberation Sans", sans-serif' fill="#000" stroke="#000" stroke-width="2.60" stroke-linejoin="round">a</text>
<text transform="translate(1147.73,1746.80) scale(0.908,1)" font-size="61.86" font-family='"Liberation Sans", sans-serif' fill="#000" stroke="#000" stroke-width="2.60" stroke-linejoin="round">t</text>
<text transform="translate(1170.66,1746.80) scale(0.711,1)" font-size="61.86" font-family='"Liberation Sans", sans-serif' fill="#000" stroke="#000" stroke-width="2.60" stroke-linejoin="round">e</text>
<text transform="translate(1202.49,1746.80) scale(0.703,1)" font-size="61.86" font-family='"Liberation Sans", sans-serif' fill="#000" stroke="#000" stroke-width="2.60" stroke-linejoin="round">d</text>
<text transform="translate(990.73,1824.10) scale(0.764,1)" font-size="61.63" font-family='"Liberation Sans", sans-serif' fill="#000" stroke="#000" stroke-width="2.60" stroke-linejoin="round">M</text>
<text transform="translate(1033.60,1824.10) scale(0.758,1)" font-size="61.63" font-family='"Liberation Sans", sans-serif' fill="#000" stroke="#000" stroke-width="2.60" stroke-linejoin="round">e</text>
<text transform="translate(1060.91,1824.10) scale(0.674,1)" font-size="61.63" font-family='"Liberation Sans", sans-serif' fill="#000" stroke="#000" stroke-width="2.60" stroke-linejoin="round">a</text>
<text transform="translate(1089.89,1824.10) scale(0.736,1)" font-size="61.63" font-family='"Liberation Sans", sans-serif' fill="#000" stroke="#000" stroke-width="2.60" stroke-linejoin="round">s</text>
<text transform="translate(1117.07,1824.10) scale(0.716,1)" font-size="61.63" font-family='"Liberation Sans", sans-serif' fill="#000" stroke="#000" stroke-width="2.60" stroke-linejoin="round">u</text>
<text transform="translate(1146.31,1824.10) scale(0.927,1)" font-size="61.63" font-family='"Liberation Sans", sans-serif' fill="#000" stroke="#000" stroke-width="2.60" stroke-linejoin="round">r</text>
<text transform="translate(1172.87,1824.10) scale(0.708,1)" font-size="61.63" font-family='"Liberation Sans", sans-serif' fill="#000" stroke="#000" stroke-width="2.60" stroke-linejoin="round">e</text>
<text transform="translate(1207.63,1824.10) scale(0.755,1)" font-size="61.63" font-family='"Liberation Sans", sans-serif' fill="#000" stroke="#000" stroke-width="2.60" stroke-linejoin="round">d</text>
<text transform="translate(562.83,2136.00) scale(0.847,1)" font-size="62.65" font-family='"Liberation Sans", sans-serif' fill="#000" stroke="#000" stroke-width="2.80" stroke-linejoin="round">F</text>
<text transform="translate(603.43,2136.00) scale(1.002,1)" font-size="62.65" font-family='"Liberation Sans", sans-serif' fill="#000" stroke="#000" stroke-width="2.80" stroke-linejoin="round">r</text>
<text transform="translate(624.95,2136.00) scale(0.755,1)" font-size="62.65" font-family='"Liberation Sans", sans-serif' fill="#000" stroke="#000" stroke-width="2.80" stroke-linejoin="round">e</text>
<text transform="translate(651.17,2136.00) scale(0.835,1)" font-size="62.65" font-family='"Liberation Sans", sans-serif' fill="#000" stroke="#000" stroke-width="2.80" stroke-linejoin="round">q</text>
<text transform="translate(685.59,2136.00) scale(0.714,1)" font-size="62.65" font-family='"Liberation Sans", sans-serif' fill="#000" stroke="#000" stroke-width="2.80" stroke-linejoin="round">u</text>
<text transform="translate(712.88,2136.00) scale(0.727,1)" font-size="62.65" font-family='"Liberation Sans", sans-serif' fill="#000" stroke="#000" stroke-width="2.80" stroke-linejoin="round">e</text>
<text transform="translate(740.33,2136.00) scale(0.823,1)" font-size="62.65" font-family='"Liberation Sans", sans-serif' fill="#000" stroke="#000" stroke-width="2.80" stroke-linejoin="round">n</text>
<text transform="translate(773.41,2136.00) scale(0.704,1)" font-size="62.65" font-family='"Liberation Sans", sans-serif' fill="#000" stroke="#000" stroke-width="2.80" stroke-linejoin="round">c</text>
<text transform="translate(808.77,2136.00) scale(0.617,1)" font-size="62.65" font-family='"Liberation Sans", sans-serif' fill="#000" stroke="#000" stroke-width="2.80" stroke-linejoin="round">y</text>
<text transform="translate(853.34,2129.57) scale(0.734,1)" font-size="54.74" font-family='"Liberation Sans", sans-serif' fill="#000" stroke="#000" stroke-width="2.80" stroke-linejoin="round">(</text>
<text transform="translate(875.87,2136.00) scale(0.648,1)" font-size="62.65" font-family='"Liberation Sans", sans-serif' fill="#000" stroke="#000" stroke-width="2.80" stroke-linejoin="round">G</text>
<text transform="translate(906.99,2136.00) scale(0.751,1)" font-size="62.65" font-family='"Liberation Sans", sans-serif' fill="#000" stroke="#000" stroke-width="2.80" stroke-linejoin="round">H</text>
<text transform="translate(949.16,2136.00) scale(0.822,1)" font-size="62.65" font-family='"Liberation Sans", sans-serif' fill="#000" stroke="#000" stroke-width="2.80" stroke-linejoin="round">z</text>
<text transform="translate(985.27,2128.32) scale(0.611,1)" font-size="53.02" font-family='"Liberation Sans", sans-serif' fill="#000" stroke="#000" stroke-width="2.80" stroke-linejoin="round">)</text>
<text transform="translate(45.15,1653.79) rotate(-90) scale(0.971,1)" font-size="45.90" font-family='"Liberation Sans", sans-serif' fill="#000" stroke="#000" stroke-width="3.40" stroke-linejoin="round">G</text>
<text transform="translate(45.30,1604.22) rotate(-90) scale(0.855,1)" font-size="51.66" font-family='"Liberation Sans", sans-serif' fill="#000" stroke="#000" stroke-width="3.40" stroke-linejoin="round">a</text>
<ellipse cx="12.7" cy="1571.0" rx="3.0" ry="6.5" transform="rotate(-60.0 12.7 1571.0)" fill="#000" stroke="none"/>
<text transform="translate(47.10,1569.79) rotate(-90) scale(1.000,1)" font-size="45.35" font-family='"Liberation Sans", sans-serif' fill="#000" stroke="#000" stroke-width="3.40" stroke-linejoin="round">ı</text>
<text transform="translate(47.10,1552.03) rotate(-90) scale(1.244,1)" font-size="45.35" font-family='"Liberation Sans", sans-serif' fill="#000" stroke="#000" stroke-width="3.40" stroke-linejoin="round">n</text>
<text transform="translate(39.50,1482.59) rotate(-90) scale(0.902,1)" font-size="41.54" font-family='"Liberation Sans", sans-serif' fill="#000" stroke="#000" stroke-width="3.40" stroke-linejoin="round">(</text>
<text transform="translate(45.10,1460.04) rotate(-90) scale(1.182,1)" font-size="51.34" font-family='"Liberation Sans", sans-serif' fill="#000" stroke="#000" stroke-width="3.40" stroke-linejoin="round">d</text>
<text transform="translate(47.10,1420.07) rotate(-90) scale(1.126,1)" font-size="45.35" font-family='"Liberation Sans", sans-serif' fill="#000" stroke="#000" stroke-width="3.40" stroke-linejoin="round">B</text>
<text transform="translate(39.50,1356.43) rotate(-90) scale(0.944,1)" font-size="41.54" font-family='"Liberation Sans", sans-serif' fill="#000" stroke="#000" stroke-width="3.40" stroke-linejoin="round">)</text>
</g>
</svg><svg id="cap" width="1400" height="2213" viewBox="0 0 1400 2213">
<text transform="translate(731.67,1009.80) scale(1.000,1)" font-size="49.50" font-family='"Liberation Serif", serif' fill="#000" stroke="#000" stroke-width="0.00" stroke-linejoin="round">(</text>
<text transform="translate(749.78,1009.80) scale(1.000,1)" font-size="49.50" font-family='"Liberation Serif", serif' fill="#000" stroke="#000" stroke-width="0.00" stroke-linejoin="round">a</text>
<text transform="translate(773.45,1009.80) scale(1.000,1)" font-size="49.50" font-family='"Liberation Serif", serif' fill="#000" stroke="#000" stroke-width="0.00" stroke-linejoin="round">)</text>
<text transform="translate(730.45,2198.90) scale(1.000,1)" font-size="49.00" font-family='"Liberation Serif", serif' fill="#000" stroke="#000" stroke-width="0.00" stroke-linejoin="round">(</text>
<text transform="translate(748.28,2198.90) scale(1.000,1)" font-size="49.00" font-family='"Liberation Serif", serif' fill="#000" stroke="#000" stroke-width="0.00" stroke-linejoin="round">b</text>
<text transform="translate(774.83,2198.90) scale(1.000,1)" font-size="49.00" font-family='"Liberation Serif", serif' fill="#000" stroke="#000" stroke-width="0.00" stroke-linejoin="round">)</text>
</svg></body></html>
